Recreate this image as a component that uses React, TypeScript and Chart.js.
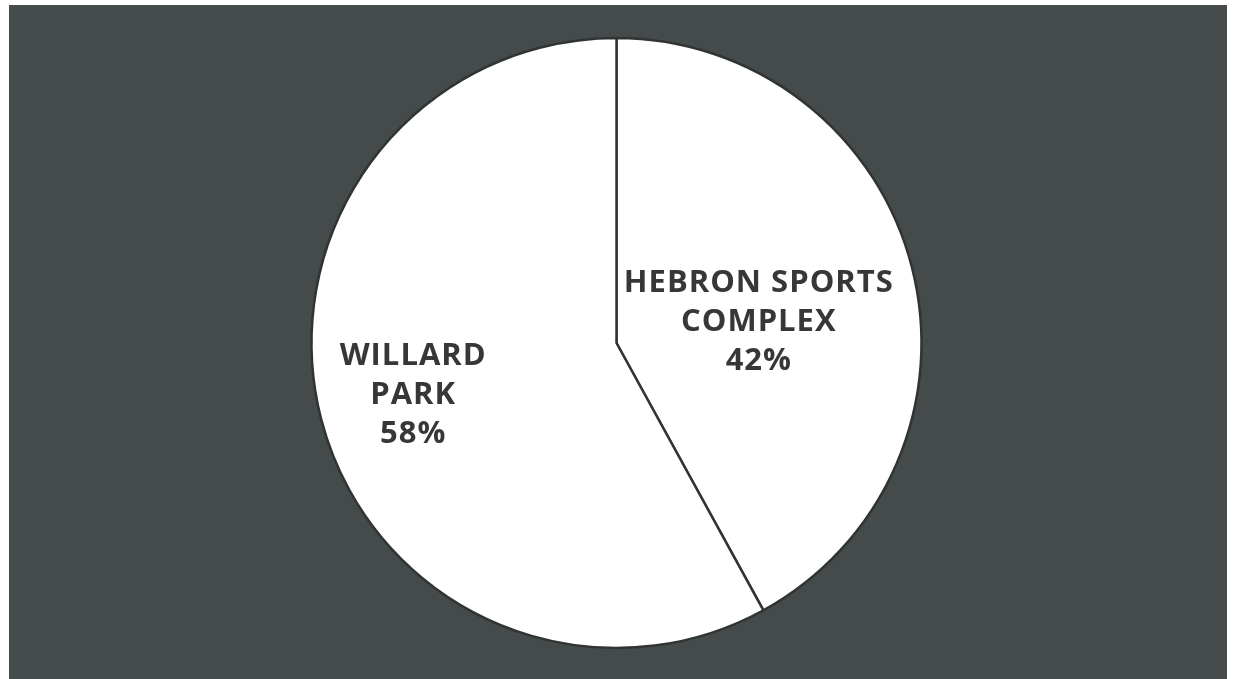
import React, { useEffect, useRef } from "react";
import { Chart, registerables } from "chart.js";

Chart.register(...registerables);

const categories = ["HEBRON SPORTS COMPLEX", "WILLARD PARK"];
const labelLines = [["HEBRON SPORTS", "COMPLEX"], ["WILLARD", "PARK"]];
const values = [42, 58];
const percentLabels = ["42%", "58%"];

const labelPlugin = {
  id: "sliceLabels",
  afterDatasetsDraw(chart: any, _args: any, opts: any) {
    const ctx = chart.ctx;
    const meta = chart.getDatasetMeta(0);
    meta.data.forEach((arc: any, i: number) => {
      const p = opts.place[i];
      const mid = (arc.startAngle + arc.endAngle) / 2 + p.angle;
      const r = arc.outerRadius * p.r;
      const cx = arc.x + Math.cos(mid) * r;
      const cy = arc.y + Math.sin(mid) * r;
      const lines = [...labelLines[i], percentLabels[i]];
      ctx.save();
      ctx.fillStyle = opts.color;
      ctx.font = opts.font;
      (ctx as any).letterSpacing = opts.letterSpacing;
      ctx.textAlign = "center";
      ctx.textBaseline = "middle";
      const lh = opts.lineHeight;
      const y0 = cy - ((lines.length - 1) * lh) / 2;
      lines.forEach((t, k) => ctx.fillText(t, cx + 0.5, y0 + k * lh));
      ctx.restore();
    });
  },
};

export default function App() {
  const ref = useRef<HTMLCanvasElement>(null);
  useEffect(() => {
    document.body.style.margin = "0";
    const chart = new Chart(ref.current!, {
      type: "pie",
      data: {
        labels: categories,
        datasets: [
          {
            data: values,
            backgroundColor: ["#ffffff", "#ffffff"],
            borderColor: "#303434",
            borderWidth: 2.5,
          },
        ],
      },
      options: {
        animation: false,
        responsive: false,
        radius: 305,
        layout: { padding: { top: 7, bottom: 0, left: 0, right: 0 } },
        plugins: {
          legend: { display: false },
          tooltip: { enabled: false },
          sliceLabels: {
            color: "#363838",
            font: "700 31px 'Open Sans'",
            letterSpacing: "1px",
            lineHeight: 39,
            place: [
              { r: 0.47, angle: 0.105 },
              { r: 0.69, angle: 0 },
            ],
          },
        } as any,
      },
      plugins: [labelPlugin],
    });
    return () => chart.destroy();
  }, []);
  return (
    <div style={{ position: "relative", width: 1233, height: 679, background: "#ffffff", overflow: "hidden" }}>
      <div style={{ position: "absolute", left: 9, top: 5, width: 1218, height: 674, background: "#454b4a" }} />
      <canvas ref={ref} width={1233} height={679} style={{ position: "absolute", left: 0, top: 0, width: 1233, height: 679 }} />
    </div>
  );
}
